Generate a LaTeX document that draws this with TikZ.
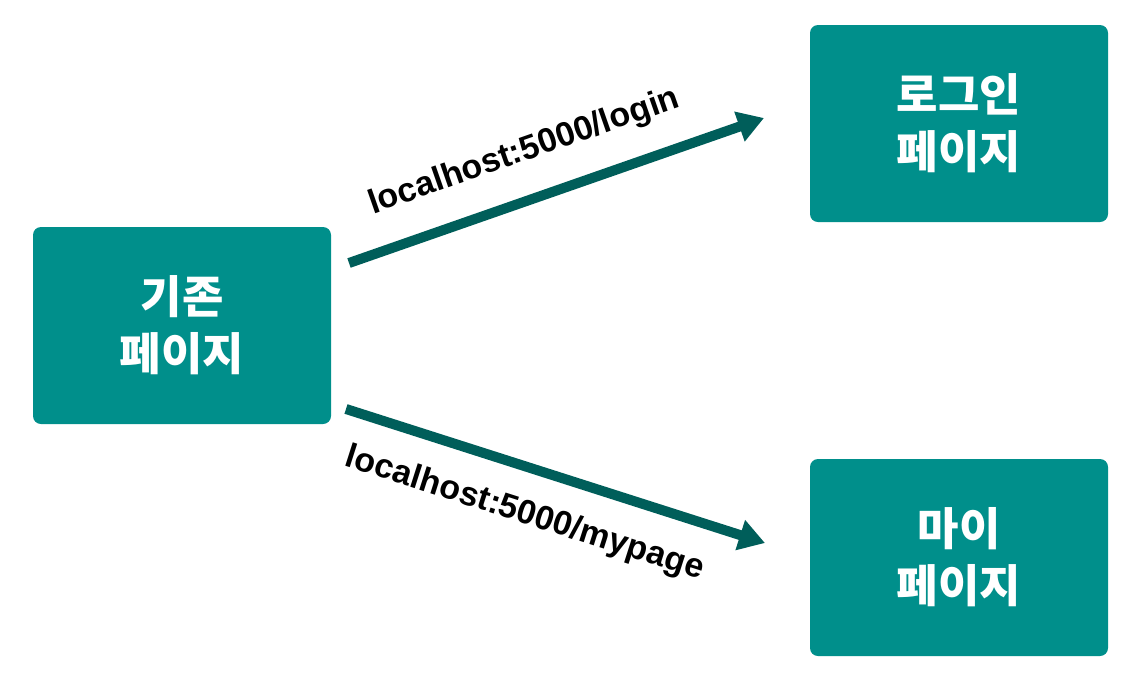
\documentclass[tikz,border=0pt]{standalone}
\usepackage{fontspec}
\setmainfont{Liberation Sans}
\newfontfamily\kr{Noto Sans CJK KR}
\usetikzlibrary{arrows.meta}
\definecolor{boxteal}{HTML}{008F8B}
\definecolor{arrteal}{HTML}{005E5A}
\begin{document}
\begin{tikzpicture}[x=1pt,y=-1pt,
  pagebox/.style={fill=boxteal, rounded corners=8pt, minimum width=298pt, minimum height=197pt,
    inner sep=0pt, text=white, align=center, font=\kr\bfseries\fontsize{45}{57}\selectfont},
  link/.style={draw=arrteal, line width=10pt, -{Triangle[length=26pt,width=30pt]}},
  urllabel/.style={font=\bfseries\fontsize{34}{38}\selectfont, text=black, sloped, inner sep=0pt}]
\useasboundingbox (0,0) rectangle (1142,681);
\node[pagebox] (src) at (182,325.5) {기존\\페이지};
\node[pagebox] (login) at (959,123.5) {로그인\\페이지};
\node[pagebox] (mypage) at (959,557.5) {마이\\페이지};
\coordinate (s1) at (349,263);
\coordinate (e1) at (764,118);
\coordinate (s2) at (346,409);
\coordinate (e2) at (765,543);
\draw[link] (s1) -- node[urllabel, pos=0.46, yshift=47pt] (l1) {localhost:5000/login} (e1);
\draw[link] (s2) -- node[urllabel, pos=0.46, yshift=-46pt] (l2) {localhost:5000/mypage} (e2);
\end{tikzpicture}
\end{document}
